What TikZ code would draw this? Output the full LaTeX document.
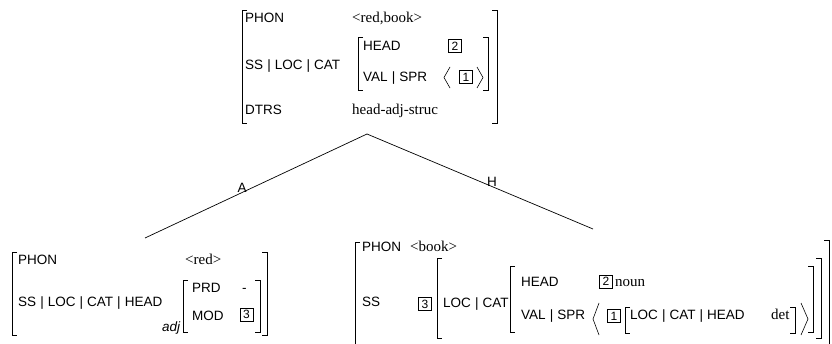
\documentclass[tikz,border=0pt]{standalone}
\usepackage{fontspec}
\setmainfont{Liberation Serif}
\setsansfont{Liberation Sans}
\newcommand{\fsep}{\hspace{0.3em}|\hspace{0.3em}}

\begin{document}
\begin{tikzpicture}[
  x=1pt, y=-1pt,
  feat/.style={anchor=base west, inner sep=0pt, font=\sffamily\fontsize{13.5}{15}\selectfont},
  val/.style={anchor=base west, inner sep=0pt, font=\fontsize{15}{17}\selectfont},
  tagbox/.style={draw, line width=0.6pt, inner sep=0pt, minimum width=13pt, minimum height=13pt, font=\sffamily\fontsize{12}{13}\selectfont},
  brk/.style={line width=0.6pt},
  edge/.style={line width=0.7pt},
  lab/.style={anchor=south, inner sep=0pt, font=\sffamily\fontsize{13.5}{15}\selectfont}
]
\useasboundingbox (0,0) rectangle (832,344);

% mother
\node[feat] (mphon) at (245,23) {PHON};
\node[val] (mphonv) at (352,23) {<red,book>};
\node[feat] (mss) at (245,70) {SS\fsep LOC\fsep CAT};
\node[feat] (mhead) at (363,51) {HEAD};
\node[tagbox] (mtag2) at (455,46) {2};
\node[feat] (mval) at (363,82) {VAL\fsep SPR};
\node[tagbox] (mtag1) at (466,77) {1};
\node[feat] (mdtrs) at (245,115) {DTRS};
\node[val] (mdtrsv) at (352,115) {head-adj-struc};

% tree
\coordinate (mother) at (367,134);
\coordinate (adjdtr) at (145,238);
\coordinate (headdtr) at (593,229);
\draw[edge] (mother) -- node[lab, pos=.563] {A} (adjdtr);
\draw[edge] (mother) -- node[lab, pos=.553] {H} (headdtr);

% adjunct daughter
\node[feat] (aphon) at (18,264.5) {PHON};
\node[val] (aphonv) at (185,264.5) {<red>};
\node[feat] (ass) at (18,306.5) {SS\fsep LOC\fsep CAT\fsep HEAD};
\node[feat, font=\sffamily\itshape\fontsize{13.5}{15}\selectfont] (atype) at (162,331) {adj};
\node[feat] (aprd) at (192,292.5) {PRD};
\node[feat] (aprdv) at (242,292.5) {-};
\node[feat] (amod) at (192,320.5) {MOD};
\node[tagbox] (atag3) at (246.5,314.5) {3};

% head daughter
\node[feat] (hphon) at (362,251.5) {PHON};
\node[val] (hphonv) at (410,251.5) {<book>};
\node[feat] (hss) at (362,307) {SS};
\node[tagbox] (htag3) at (425,304) {3};
\node[feat] (hloc) at (443,307.5) {LOC\fsep CAT};
\node[feat] (hhead) at (521,286.5) {HEAD};
\node[tagbox] (htag2) at (606,281.5) {2};
\node[val] (hheadv) at (615,286.5) {noun};
\node[feat] (hval) at (521,319.5) {VAL\fsep SPR};
\node[tagbox] (htag1) at (614,316) {1};
\node[feat] (hsprloc) at (630,319.5) {LOC\fsep CAT\fsep HEAD};
\node[val] (hsprv) at (771,319.5) {det};

% brackets
\foreach \x/\t/\b in {242/10/123, 358/37/90, 12/252/335, 183/280/332,
    355/242/350, 437/258/338, 510/266/332, 625/307/333}
  \draw[brk] (\x+5,\t) -- (\x,\t) -- (\x,\b) -- (\x+5,\b);
\foreach \x/\t/\b in {497/10/123, 488/37/90, 267/252/335, 260/280/332,
    829/240/350, 821/258/338, 813/266/332, 795/307/333}
  \draw[brk] (\x-5,\t) -- (\x,\t) -- (\x,\b) -- (\x-5,\b);
\foreach \x/\t/\b/\w in {444/67/88/6, 483/67/88/-6, 593/303/335/6, 808/303/335/-7}
  \draw[brk] (\x+\w,\t) -- (\x,{(\t+\b)/2}) -- (\x+\w,\b);
\end{tikzpicture}
\end{document}
